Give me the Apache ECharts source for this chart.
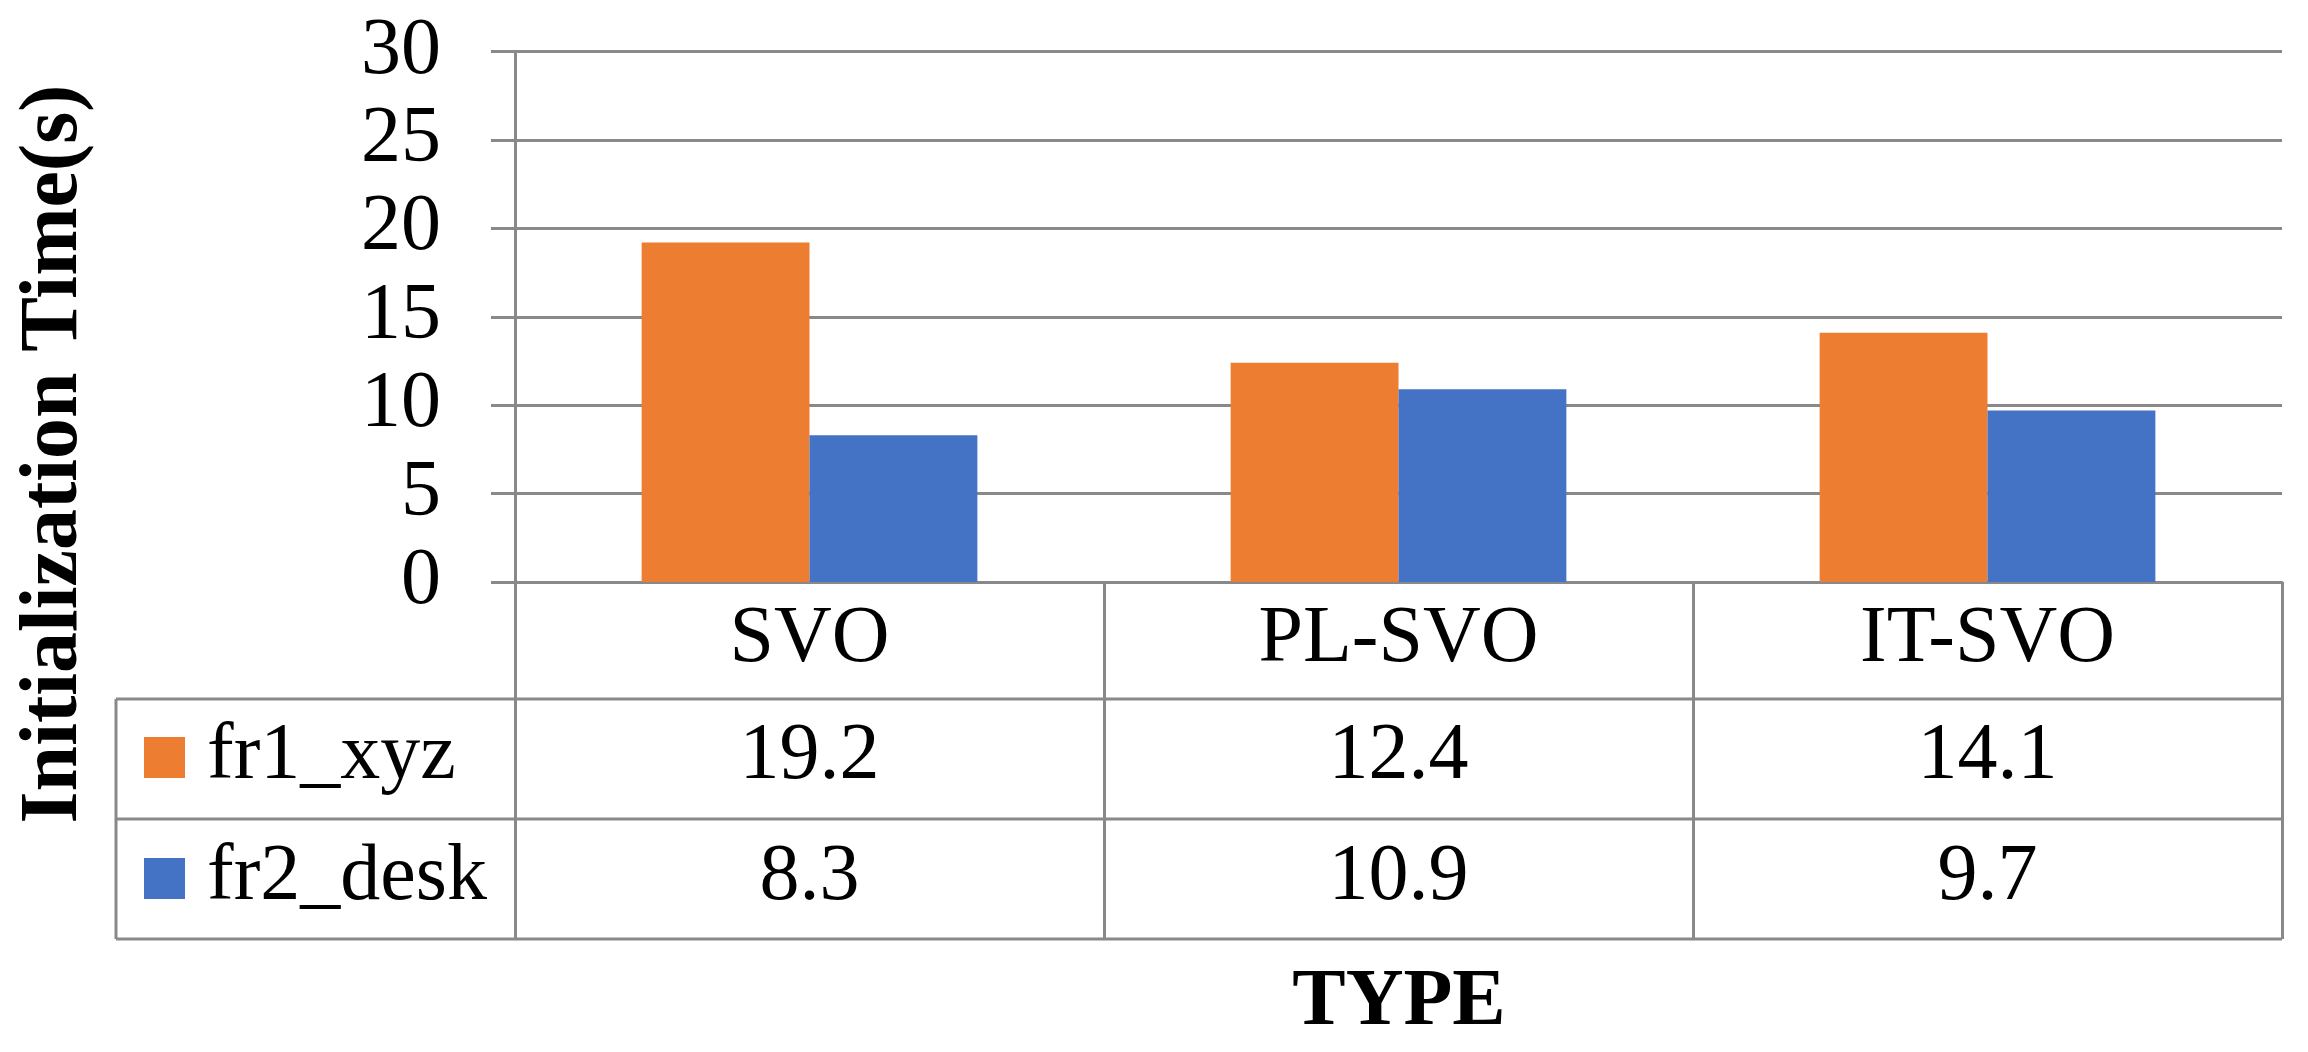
<!DOCTYPE html>
<html>
<head>
<meta charset="utf-8">
<script src="https://cdn.jsdelivr.net/npm/echarts@6/dist/echarts.min.js"></script>
<style>
html,body{margin:0;padding:0;background:#fff;}
#chart{width:2308px;height:1052px;}
</style>
</head>
<body>
<div id="chart"></div>
<script>
const categories = ['SVO', 'PL-SVO', 'IT-SVO'];
const seriesNames = ['fr1_xyz', 'fr2_desk'];
const fr1Values = [19.2, 12.4, 14.1];
const fr2Values = [8.3, 10.9, 9.7];
const seriesColors = ['#ED7D31', '#4472C4'];
const yTitle = 'Initialization Time(s)';
const xTitle = 'TYPE';

const FONT = 'Liberation Serif';
const GRAY = '#898989';
const LW = 3;

const W = 2308, H = 1052;
const gridLeft = 515, gridRight = 26, gridTop = 51.5, gridBottom = 470;
const axisY = H - gridBottom;          // 582
const rowLines = [699, 819, 939];       // table horizontal lines
const tableLeft = 116;
const rowCenters = [757, 878];

const chart = echarts.init(document.getElementById('chart'), null, {renderer: 'canvas'});

const option = {
  backgroundColor: '#fff',
  animation: false,
  grid: {left: gridLeft, right: gridRight, top: gridTop, bottom: gridBottom, containLabel: false},
  xAxis: {
    type: 'category',
    data: categories,
    boundaryGap: true,
    axisLine: {show: true, lineStyle: {color: GRAY, width: LW}},
    axisTick: {show: true, interval: 0, length: rowLines[2] - axisY, lineStyle: {color: GRAY, width: LW}},
    axisLabel: {interval: 0, margin: 18, fontFamily: FONT, fontSize: 80, color: '#000'},
    splitLine: {show: false}
  },
  yAxis: {
    type: 'value',
    min: 0, max: 30, interval: 5,
    axisLine: {show: true, lineStyle: {color: GRAY, width: LW}},
    axisTick: {show: true, length: 24, lineStyle: {color: GRAY, width: LW}},
    axisLabel: {margin: 74, fontFamily: FONT, fontSize: 80, color: '#000'},
    splitLine: {show: true, lineStyle: {color: GRAY, width: LW}}
  },
  series: [
    {name: seriesNames[0], type: 'bar', data: fr1Values, barGap: 0, barCategoryGap: '43%', itemStyle: {color: seriesColors[0]}},
    {name: seriesNames[1], type: 'bar', data: fr2Values, barGap: 0, barCategoryGap: '43%', itemStyle: {color: seriesColors[1]}}
  ]
};
chart.setOption(option);

// Data table and titles
const gridRightX = W - gridRight;
const elements = [];
rowLines.forEach(y => {
  elements.push({type: 'line', shape: {x1: tableLeft, y1: y, x2: gridRightX, y2: y}, style: {stroke: GRAY, lineWidth: LW}, silent: true});
});
elements.push({type: 'line', shape: {x1: tableLeft, y1: rowLines[0], x2: tableLeft, y2: rowLines[2]}, style: {stroke: GRAY, lineWidth: LW}, silent: true});

function txt(x, y, s, bold, align, size, extra) {
  return Object.assign({
    type: 'text', x: x, y: y, silent: true,
    style: {text: s, fontFamily: FONT, fontSize: size, fontWeight: bold ? 'bold' : 'normal', fill: '#000', align: align, verticalAlign: 'middle'}
  }, extra || {});
}

const rows = [fr1Values, fr2Values];
rows.forEach((vals, r) => {
  elements.push({type: 'rect', shape: {x: 144, y: rowCenters[r] - 20, width: 41, height: 41}, style: {fill: seriesColors[r]}, silent: true});
  elements.push(txt(207, rowCenters[r], seriesNames[r], false, 'left', 80));
  vals.forEach((v, i) => {
    const px = chart.convertToPixel({xAxisIndex: 0}, categories[i]);
    elements.push(txt(px, rowCenters[r], String(v), false, 'center', 80));
  });
});

elements.push(txt(1399, 1003, xTitle, true, 'center', 80));
elements.push(txt(55, 454, yTitle, true, 'center', 82, {rotation: Math.PI / 2}));

chart.setOption({graphic: {elements: elements}});
</script>
</body>
</html>
